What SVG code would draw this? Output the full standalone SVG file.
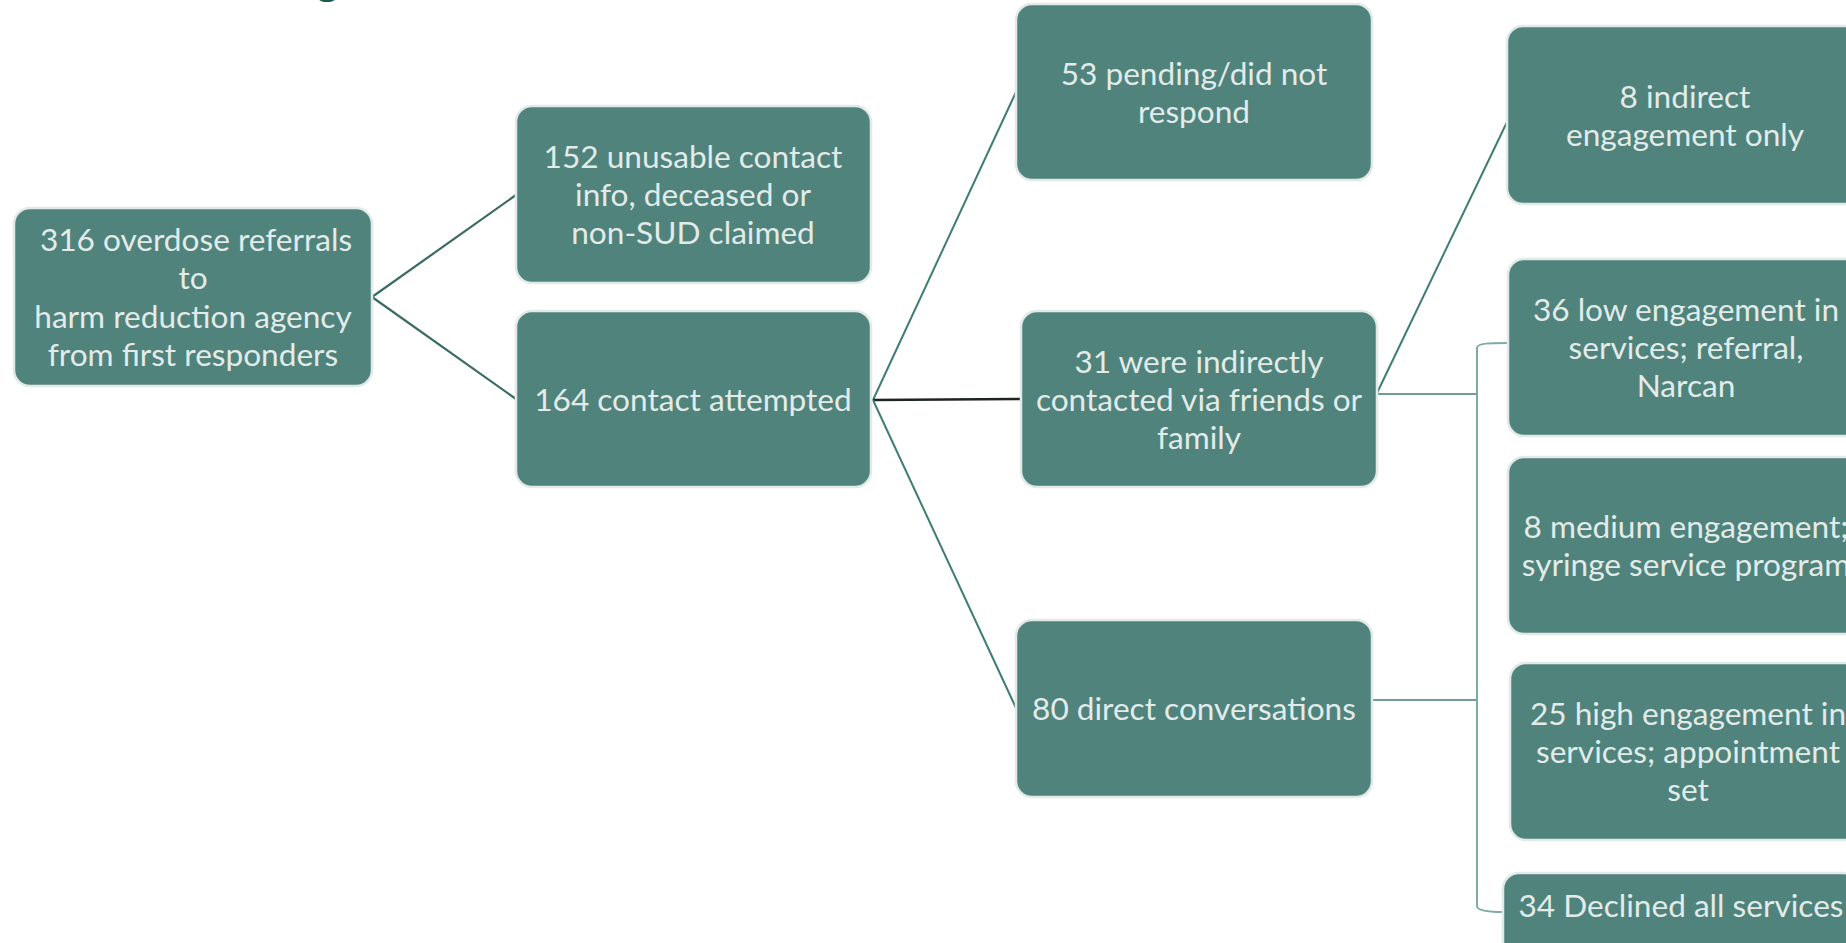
<svg xmlns="http://www.w3.org/2000/svg" width="1846" height="943" viewBox="0 0 1846 943">
  <style>
    .box { fill: #4f837b; stroke: #e1eae8; stroke-width: 2.5; }
    .lbl { font-family: Lato, "Open Sans", "Liberation Sans", sans-serif; font-size: 31.6px; fill: #e2ebe9; text-anchor: middle; }
    .title { font-family: "Liberation Sans", Arial, sans-serif; font-weight: bold; font-size: 44px; fill: #1b5c52; }
    .link { fill: none; stroke: #3a6b63; stroke-width: 2.2; }
    .link2 { fill: none; stroke: #3e7c74; stroke-width: 2; }
    .dark { fill: none; stroke: #1e2422; stroke-width: 2.5; }
    .thin { fill: none; stroke: #3e7c74; stroke-width: 1.6; }
    .brace { fill: none; stroke: #7eaaa4; stroke-width: 2; }
  </style>

  <rect width="1846" height="943" fill="#ffffff"/>

  <!-- heading descender peeking in at the top edge -->
  <text class="title" x="314" y="-7">g</text>

  <!-- connectors -->
  <g id="connectors">
    <line class="link" x1="372" y1="297" x2="516" y2="195"/>
    <line class="link" x1="372" y1="297" x2="516" y2="399"/>
    <line class="link2" x1="873" y1="400" x2="1016" y2="92"/>
    <line class="dark" x1="873" y1="400" x2="1020" y2="399"/>
    <line class="link2" x1="873" y1="400" x2="1016" y2="708"/>
    <line class="link2" x1="1377" y1="393" x2="1507" y2="122"/>
    <line class="thin" x1="1377" y1="394" x2="1477" y2="394"/>
    <line class="thin" x1="1372" y1="700" x2="1477" y2="700"/>
    <path class="brace" d="M1508,343 C1490,343 1477,343 1477,348 L1477,906 C1477,911 1490,912 1503,912"/>
  </g>

  <g id="referrals">
    <rect class="box" x="14" y="208" width="358" height="178" rx="16"/>
    <text class="lbl"><tspan x="196" y="251">316 overdose referrals</tspan><tspan x="193" y="289">to</tspan><tspan x="193" y="328">harm reduction agency</tspan><tspan x="193" y="366">from first responders</tspan></text>
  </g>

  <g id="unusable">
    <rect class="box" x="516" y="106" width="355" height="177" rx="16"/>
    <text class="lbl"><tspan x="693" y="168">152 unusable contact</tspan><tspan x="693" y="206">info, deceased or</tspan><tspan x="693" y="244">non-SUD claimed</tspan></text>
  </g>

  <g id="attempted">
    <rect class="box" x="516" y="311" width="355" height="176" rx="16"/>
    <text class="lbl" x="693" y="411">164 contact attempted</text>
  </g>

  <g id="pending">
    <rect class="box" x="1016" y="4" width="356" height="176" rx="16"/>
    <text class="lbl"><tspan x="1194" y="85">53 pending/did not</tspan><tspan x="1194" y="123">respond</tspan></text>
  </g>

  <g id="indirect">
    <rect class="box" x="1021" y="311" width="356" height="176" rx="16"/>
    <text class="lbl"><tspan x="1199" y="373">31 were indirectly</tspan><tspan x="1199" y="411">contacted via friends or</tspan><tspan x="1199" y="449">family</tspan></text>
  </g>

  <g id="direct">
    <rect class="box" x="1016" y="620" width="356" height="177" rx="16"/>
    <text class="lbl" x="1194" y="720">80 direct conversations</text>
  </g>

  <g id="indirect-only">
    <rect class="box" x="1507" y="26" width="356" height="178" rx="16"/>
    <text class="lbl"><tspan x="1685" y="108">8 indirect</tspan><tspan x="1685" y="146">engagement only</tspan></text>
  </g>

  <g id="low">
    <rect class="box" x="1508" y="259" width="356" height="177" rx="16"/>
    <text class="lbl"><tspan x="1686" y="321">36 low engagement in</tspan><tspan x="1686" y="359">services; referral,</tspan><tspan x="1686" y="397">Narcan</tspan></text>
  </g>

  <g id="medium">
    <rect class="box" x="1508" y="457" width="356" height="177" rx="16"/>
    <text class="lbl"><tspan x="1686" y="538">8 medium engagement;</tspan><tspan x="1686" y="576">syringe service program</tspan></text>
  </g>

  <g id="high">
    <rect class="box" x="1510" y="663" width="356" height="177" rx="16"/>
    <text class="lbl"><tspan x="1688" y="725">25 high engagement in</tspan><tspan x="1688" y="763">services; appointment</tspan><tspan x="1688" y="801">set</tspan></text>
  </g>

  <g id="declined">
    <rect class="box" x="1503" y="873" width="356" height="177" rx="16"/>
    <text class="lbl" x="1681" y="917">34 Declined all services</text>
  </g>
</svg>
